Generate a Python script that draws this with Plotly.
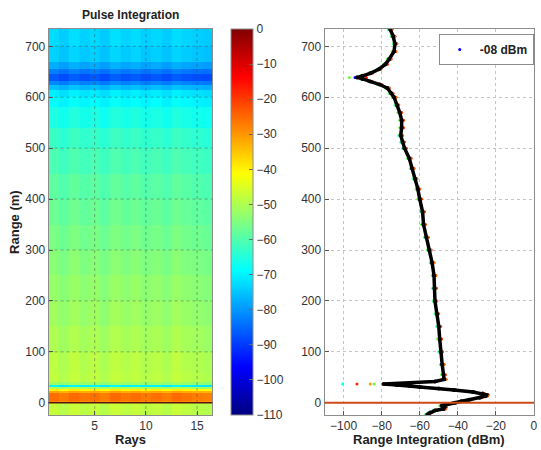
import plotly.graph_objects as go

# ---------------- data ----------------
rays = list(range(1, 17))
ray_ticks = [5, 10, 15]
range_ticks = [0, 100, 200, 300, 400, 500, 600, 700]
power_ticks = [-100, -80, -60, -40, -20, 0]
cbar_ticks = [-110, -100, -90, -80, -70, -60, -50, -40, -30, -20, -10, 0]

# heat-map rows: edges (m) and row power (dBm)
heat_edges = [-24, 0, 3, 20, 24, 28, 31, 35, 40, 60, 100, 150, 200, 250, 300, 350, 400,
              450, 500, 540, 580, 600, 615, 625, 632, 645, 655, 670, 700, 734]
heat_power = [-48, -28, -26, -32, -40, -50, -70, -52, -48.5, -49, -50.5, -52, -53, -54.5,
              -56, -57.5, -59, -61, -63, -66, -69, -71, -76, -82, -87, -83, -78, -74, -73]
ray_offset = [0.5, -1.0, 0.8, -0.6, 0.3, -1.2, 0.9, -0.4, 0.6, -0.8, 0.2, -1.1, 0.7, -0.3, -0.9, -1.4]

# mean range-integration profile (black curve)
prof_range = [733, 720, 705, 690, 675, 665, 655, 647, 642, 639, 636, 631, 625, 618, 608, 600,
              585, 570, 555, 540, 525, 512, 500, 480, 460, 440, 420, 400, 375, 350, 325, 300,
              275, 250, 225, 200, 175, 150, 125, 100, 75, 55, 46, 42, 39, 37, 35, 33, 31, 28,
              25, 21, 18, 15.5, 13, 10, 6, 3, 0, -3, -6, -9, -12, -15, -19, -23]
prof_power = [-75.5, -74, -73, -73.5, -76, -78, -81.5, -86, -90, -93, -90, -86, -81, -77, -75, -73.5,
              -72, -70.5, -69.5, -69.5, -70, -69, -68, -65.5, -64, -62.5, -61, -60, -58.5, -58, -56.5, -55,
              -53.5, -52.5, -52.2, -52, -51, -50, -49.5, -49, -48.2, -47.5, -47.2, -52, -65, -79, -72, -65, -60, -50,
              -42, -32, -27, -25, -25.5, -28.5, -34, -38, -41.5, -47, -48.5, -47, -47.5, -52, -54.5, -56]

# individual ray traces (colour, offset from mean, value at the 37 m dip, value at the 639 m tip)
ray_colors = ["#0000ff", "#66ff33", "#ff2000", "#00ffff", "#ff9900"]
ray_shift = [-0.5, -1.0, 1.0, -0.6, 0.6]
ray_dip = [-78, -84, -93, -100.5, -86]
ray_tip = [-94, -97, -88, -92, -91]

legend_label = "-08 dBm"

# ---------------- figure ----------------
W, H = 541, 450
def fx(px):
    return px / W
def fy(py):
    return (H - py) / H

FONT = "Liberation Sans, Arial, sans-serif"
jet = [[0.0, "rgb(0,0,128)"], [0.125, "rgb(0,0,255)"], [0.375, "rgb(0,255,255)"],
       [0.625, "rgb(255,255,0)"], [0.875, "rgb(255,0,0)"], [1.0, "rgb(128,0,0)"]]

z = [[p + o for o in ray_offset] for p in heat_power]

fig = go.Figure()
fig.add_trace(go.Heatmap(
    x=rays, y=heat_edges, z=z, colorscale=jet, zmin=-110, zmax=0,
    xaxis="x", yaxis="y", showscale=True, showlegend=False,
    colorbar=dict(x=fx(233), xanchor="left", y=fy(222), yanchor="middle",
                  len=386 / H, lenmode="fraction", thickness=22, xpad=0, ypad=0,
                  outlinewidth=1, outlinecolor="#8c8c8c",
                  tickvals=cbar_ticks, ticks="inside", ticklen=4,
                  tickcolor="#666", tickfont=dict(family=FONT, size=12, color="#333")),
))

for i, (c, s, d, t) in enumerate(zip(ray_colors, ray_shift, ray_dip, ray_tip)):
    xs = []
    for r, p in zip(prof_range, prof_power):
        if r == 37:
            xs.append(d)
        elif r == 639:
            xs.append(t)
        else:
            xs.append(p + s)
    fig.add_trace(go.Scatter(
        x=xs, y=prof_range, mode="markers", xaxis="x2", yaxis="y2",
        marker=dict(color=c, size=3), name="<b>" + legend_label + "</b>", showlegend=(i == 0),
    ))

fig.add_trace(go.Scatter(
    x=prof_power, y=prof_range, mode="lines+markers", xaxis="x2", yaxis="y2",
    line=dict(color="black", width=3.5), marker=dict(color="black", size=4),
    showlegend=False,
))

axis_common = dict(showline=True, mirror=True, linecolor="#8c8c8c", linewidth=1,
                   ticks="inside", ticklen=4, tickcolor="#555",
                   showgrid=True, gridcolor="#c4c4c4", griddash="dot", gridwidth=1,
                   zeroline=False, layer="above traces", ticklabeloverflow="allow",
                   tickfont=dict(family=FONT, size=12, color="#333"))

# dotted grid drawn over the heat map (as in the original)
grid_shapes = []
for v in ray_ticks:
    grid_shapes.append(dict(type="line", xref="x", yref="y domain", x0=v, x1=v, y0=0, y1=1,
                            layer="above", line=dict(color="rgba(70,70,70,0.45)", width=1, dash="dot")))
for v in range_ticks[1:]:
    grid_shapes.append(dict(type="line", xref="x domain", yref="y", x0=0, x1=1, y0=v, y1=v,
                            layer="above", line=dict(color="rgba(70,70,70,0.45)", width=1, dash="dot")))

fig.update_layout(
    width=W, height=H, margin=dict(l=0, r=0, t=0, b=0),
    paper_bgcolor="white", plot_bgcolor="white",
    xaxis=dict(domain=[fx(49), fx(214)], range=[0.5, 16.5], tickvals=ray_ticks,
               anchor="y", **axis_common),
    yaxis=dict(domain=[fy(415), fy(29)], range=[-24, 734], tickvals=range_ticks,
               anchor="x", **axis_common),
    xaxis2=dict(domain=[fx(327), fx(538)], range=[-110, 0.05], tickvals=power_ticks,
                anchor="y2", **axis_common),
    yaxis2=dict(domain=[fy(415), fy(29)], range=[-24, 734], tickvals=range_ticks,
                anchor="x2", **axis_common),
    legend=dict(x=fx(442), y=fy(34), xanchor="left", yanchor="top",
                bgcolor="white", bordercolor="#8c8c8c", borderwidth=1,
                font=dict(family=FONT, size=12, color="#222"), itemwidth=30,
                tracegroupgap=0),
    shapes=grid_shapes + [
        dict(type="line", xref="x domain", yref="y", x0=0, x1=1, y0=0, y1=0,
             line=dict(color="rgb(90,20,10)", width=1.5)),
        dict(type="line", xref="x2 domain", yref="y2", x0=0, x1=1, y0=0, y1=0,
             line=dict(color="rgb(205,75,25)", width=2)),
    ],
    annotations=[
        dict(text="<b>Pulse Integration</b>", xref="paper", yref="paper", x=fx(131.5),
             y=fy(15), xanchor="center", yanchor="middle", showarrow=False,
             font=dict(family=FONT, size=12, color="#222")),
        dict(text="<b>Rays</b>", xref="paper", yref="paper", x=fx(131.5),
             y=fy(439), xanchor="center", yanchor="middle", showarrow=False,
             font=dict(family=FONT, size=13, color="#222")),
        dict(text="<b>Range (m)</b>", xref="paper", yref="paper", x=fx(15),
             y=fy(222), xanchor="center", yanchor="middle", showarrow=False,
             textangle=-90, font=dict(family=FONT, size=13, color="#222")),
        dict(text="<b>Range Integration (dBm)</b>", xref="paper", yref="paper", x=fx(432),
             y=fy(439), xanchor="center", yanchor="middle", showarrow=False,
             font=dict(family=FONT, size=13, color="#222")),
    ],
)

# remove the default 8 px page margin so the figure fills the 541x450 window exactly
fig.write_html("out.html", config={"displayModeBar": False},
               post_script="document.body.style.margin='0';document.body.style.overflow='hidden';")
